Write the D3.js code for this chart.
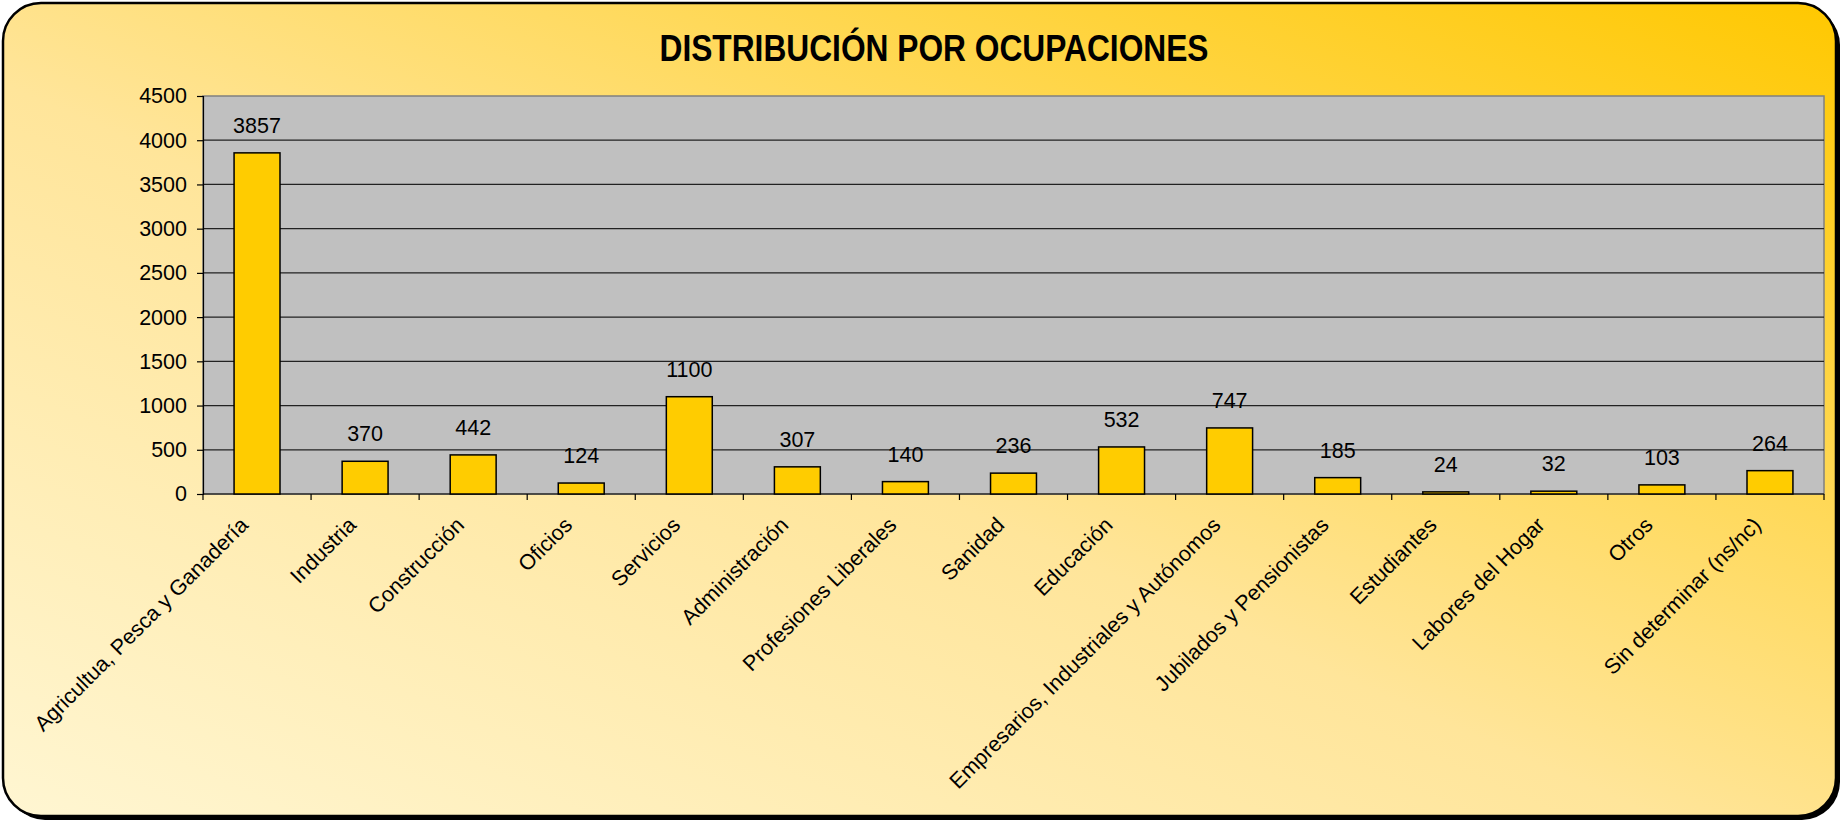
<!DOCTYPE html>
<html><head><meta charset="utf-8">
<script src="https://cdn.jsdelivr.net/npm/d3@7"></script>
<style>html,body{margin:0;padding:0;background:#fff;}svg{display:block;}</style>
</head><body>
<svg id="chart" width="1845" height="825"></svg>
<script>
const categories = ["Agricultua, Pesca y Ganadería","Industria","Construcción","Oficios","Servicios","Administración","Profesiones Liberales","Sanidad","Educación","Empresarios, Industriales y Autónomos","Jubilados y Pensionistas","Estudiantes","Labores del Hogar","Otros","Sin determinar (ns/nc)"];
const values = [3857,370,442,124,1100,307,140,236,532,747,185,24,32,103,264];
const yTicks = [0,500,1000,1500,2000,2500,3000,3500,4000,4500];
const title = "DISTRIBUCIÓN POR OCUPACIONES";

const svg = d3.select("#chart");
const font = "Liberation Sans, Arial, sans-serif";

const defs = svg.append("defs");
const g = defs.append("linearGradient").attr("id","bg").attr("x1","0").attr("y1","1").attr("x2","1").attr("y2","0");
g.append("stop").attr("offset","0").attr("stop-color","#FFF6D2");
g.append("stop").attr("offset","0.45").attr("stop-color","#FFE59A");
g.append("stop").attr("offset","1").attr("stop-color","#FFC800");

// frame shadow + frame
svg.append("rect").attr("x",7).attr("y",7).attr("width",1833).attr("height",813).attr("rx",38).attr("fill","#000");
svg.append("rect").attr("x",3).attr("y",3).attr("width",1833).attr("height",813).attr("rx",38)
  .attr("fill","url(#bg)").attr("stroke","#000").attr("stroke-width",2.5);

svg.append("text").attr("x",934).attr("y",61).attr("text-anchor","middle")
  .attr("font-family",font).attr("font-weight","bold").attr("font-size",36)
  .attr("textLength",549).attr("lengthAdjust","spacingAndGlyphs").attr("fill","#000").text(title);

const L=203, R=1824, T=96, B=494;
const x = d3.scaleBand().domain(categories).range([L,R]).paddingInner(0.575).paddingOuter(0.2875);
const y = d3.scaleLinear().domain([0,4500]).range([B,T]);

svg.append("rect").attr("x",L).attr("y",T).attr("width",R-L).attr("height",B-T).attr("fill","#C0C0C0")
  .attr("stroke","#808080").attr("stroke-width",1.5);

svg.append("g").selectAll("line").data(yTicks.filter(d=>d>0 && d<4500)).join("line")
  .attr("x1",L).attr("x2",R).attr("y1",d=>y(d)).attr("y2",d=>y(d)).attr("stroke","#222").attr("stroke-width",1.2);

// y axis
const yAxis = svg.append("g").attr("transform",`translate(${L},0)`)
  .call(d3.axisLeft(y).tickValues(yTicks).tickSize(6).tickPadding(10).tickFormat(d3.format("d")));
yAxis.select(".domain").attr("stroke","#000").attr("stroke-width",1.2);
yAxis.selectAll(".tick line").attr("stroke","#000").attr("stroke-width",1.2);
yAxis.selectAll("text").attr("font-family",font).attr("font-size",21.5).attr("fill","#000");

// x axis ticks at band boundaries
const bounds = d3.range(categories.length+1).map(i=>L + i*(R-L)/categories.length);
svg.append("line").attr("x1",L).attr("x2",R).attr("y1",B).attr("y2",B).attr("stroke","#000").attr("stroke-width",1.2);
svg.append("g").selectAll("line").data(bounds).join("line")
  .attr("x1",d=>d).attr("x2",d=>d).attr("y1",B).attr("y2",B+6).attr("stroke","#000").attr("stroke-width",1.2);

// bars
svg.append("g").selectAll("rect").data(values).join("rect")
  .attr("x",(d,i)=>x(categories[i])).attr("width",x.bandwidth())
  .attr("y",d=>y(d)).attr("height",d=>B-y(d))
  .attr("fill","#FFCC00").attr("stroke","#000").attr("stroke-width",1.5);

// value labels
svg.append("g").selectAll("text").data(values).join("text")
  .attr("x",(d,i)=>x(categories[i])+x.bandwidth()/2).attr("y",d=>y(d)-20)
  .attr("text-anchor","middle").attr("font-family",font).attr("font-size",21.5).attr("fill","#000").text(d=>d);

// category labels
svg.append("g").selectAll("text").data(categories).join("text")
  .attr("transform",d=>`translate(${x(d)+x.bandwidth()/2-13},${B+27}) rotate(-45)`)
  .attr("text-anchor","end").attr("dy","0.35em").attr("font-family",font).attr("font-size",21.5).attr("fill","#000").text(d=>d);
</script>
</body></html>
